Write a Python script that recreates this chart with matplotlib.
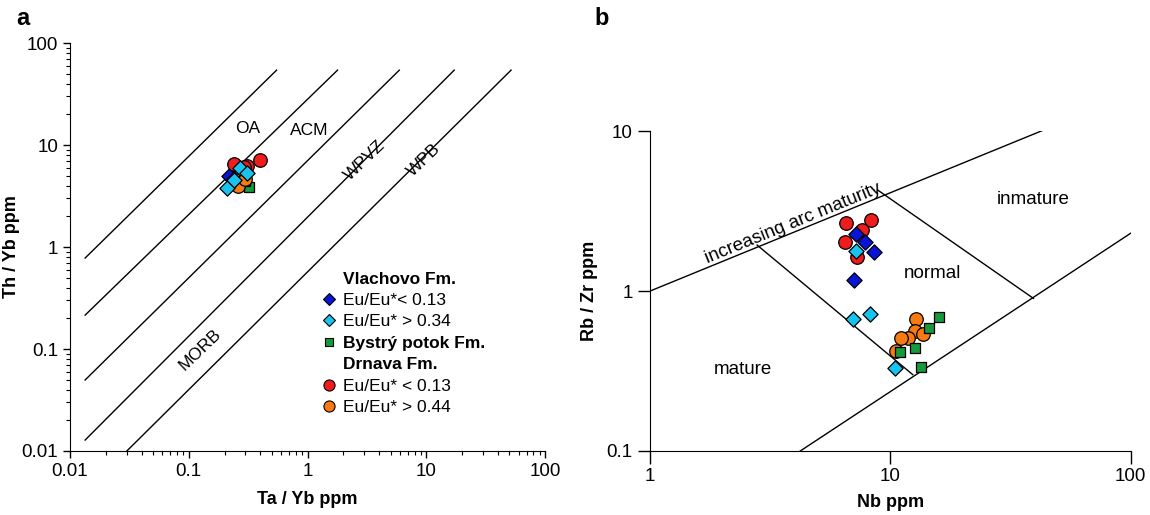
import matplotlib
matplotlib.use("Agg")
import matplotlib.pyplot as plt
from matplotlib.lines import Line2D
from matplotlib.ticker import LogLocator, NullFormatter, FixedLocator, FixedFormatter

plt.rcParams['font.family'] = ['Liberation Sans', 'DejaVu Sans']

# ---------------- Panel a data (Ta/Yb, Th/Yb) ----------------
a_vl_low_x = [0.22, 0.24, 0.30]
a_vl_low_y = [5.0, 4.6, 5.3]
a_vl_high_x = [0.21, 0.27, 0.31, 0.24]
a_vl_high_y = [3.8, 6.0, 5.3, 4.5]
a_by_x = [0.32, 0.25, 0.30]
a_by_y = [3.9, 4.3, 4.4]
a_dr_low_x = [0.40, 0.24, 0.31, 0.29]
a_dr_low_y = [7.1, 6.5, 6.3, 6.1]
a_dr_high_x = [0.27, 0.28, 0.26, 0.30]
a_dr_high_y = [4.3, 4.8, 4.0, 4.6]

# field boundaries panel a: (x0, y0, x1, y1)
a_bounds = [
    (0.0134, 0.78, 0.549, 54.3),
    (0.0134, 0.215, 1.79, 54.3),
    (0.0134, 0.0497, 5.93, 54.3),
    (0.0134, 0.0128, 17.2, 54.3),
    (0.0301, 0.01, 51.8, 54.3),
]

# ---------------- Panel b data (Nb, Rb/Zr) ----------------
b_vl_low_x = [7.21, 7.87, 8.52, 7.03]
b_vl_low_y = [2.26, 2.03, 1.76, 1.17]
b_vl_high_x = [7.21, 6.97, 8.2, 10.5]
b_vl_high_y = [1.78, 0.666, 0.72, 0.329]
b_by_x = [15.9, 14.5, 12.7, 11.0, 13.4]
b_by_y = [0.685, 0.59, 0.442, 0.414, 0.336]
b_dr_low_x = [6.56, 8.31, 7.62, 6.49, 7.27]
b_dr_low_y = [2.66, 2.78, 2.40, 2.03, 1.63]
b_dr_high_x = [12.8, 12.7, 13.7, 11.9, 11.1, 10.6]
b_dr_high_y = [0.668, 0.565, 0.536, 0.506, 0.506, 0.423]

b_bounds = [
    (1.0, 1.0, 46.5, 10.6),
    (2.79, 1.94, 12.4, 0.30),
    (8.83, 4.3, 39.4, 0.90),
    (4.22, 0.1, 100.0, 2.30),
]

C_DB = '#0a14d8'
C_CY = '#19c3f0'
C_GR = '#159a3c'
C_RD = '#ee1c1c'
C_OR = '#f77a12'

fig = plt.figure(figsize=(11.5, 5.15), dpi=100)
axa = fig.add_axes([0.0609, 0.1243, 0.413, 0.792])
axb = fig.add_axes([0.5652, 0.1243, 0.418, 0.621])

# ---------------- Panel a ----------------
axa.set_xscale('log')
axa.set_yscale('log')
axa.set_xlim(0.01, 100)
axa.set_ylim(0.01, 100)
for x0, y0, x1, y1 in a_bounds:
    axa.plot([x0, x1], [y0, y1], color='black', lw=1.0)

ms_c, ms_d, ms_s = 95, 60, 55
kw = dict(edgecolors='black', linewidths=0.9, zorder=3)
axa.scatter(a_vl_low_x, a_vl_low_y, marker='D', s=ms_d, c=C_DB, **kw)
axa.scatter(a_dr_low_x, a_dr_low_y, marker='o', s=ms_c, c=C_RD, **kw)
axa.scatter(a_by_x, a_by_y, marker='s', s=ms_s, c=C_GR, **kw)
axa.scatter(a_dr_high_x, a_dr_high_y, marker='o', s=ms_c, c=C_OR, **kw)
axa.scatter(a_vl_high_x, a_vl_high_y, marker='D', s=ms_d, c=C_CY, **kw)

axa.text(0.313, 14.7, 'OA', fontsize=12.5, ha='center', va='center')
axa.text(1.04, 14.0, 'ACM', fontsize=12.5, ha='center', va='center')
axa.text(3.01, 7.1, 'WPVZ', fontsize=12.5, ha='center', va='center', rotation=44)
axa.text(9.6, 7.1, 'WPB', fontsize=12.5, ha='center', va='center', rotation=44)
axa.text(0.124, 0.098, 'MORB', fontsize=12.5, ha='center', va='center', rotation=44)

for s in ['top', 'right']:
    axa.spines[s].set_visible(False)
axa.xaxis.set_major_locator(FixedLocator([0.01, 0.1, 1, 10, 100]))
axa.xaxis.set_major_formatter(FixedFormatter(['0.01', '0.1', '1', '10', '100']))
axa.yaxis.set_major_locator(FixedLocator([0.01, 0.1, 1, 10, 100]))
axa.yaxis.set_major_formatter(FixedFormatter(['0.01', '0.1', '1', '10', '100']))
axa.xaxis.set_minor_locator(LogLocator(base=10, subs=range(2, 10)))
axa.yaxis.set_minor_locator(LogLocator(base=10, subs=range(2, 10)))
axa.xaxis.set_minor_formatter(NullFormatter())
axa.yaxis.set_minor_formatter(NullFormatter())
axa.tick_params(which='major', length=5, width=1, labelsize=13.5, direction='out')
axa.tick_params(which='minor', length=3, width=0.8, direction='out')
axa.set_xlabel('Ta / Yb ppm', fontsize=13, fontweight='bold', labelpad=8)
axa.set_ylabel('Th / Yb ppm', fontsize=13, fontweight='bold', labelpad=1)

blank = Line2D([], [], linestyle='none', marker=None)
handles = [
    blank,
    Line2D([], [], linestyle='none', marker='D', markersize=6, markerfacecolor=C_DB, markeredgecolor='black', markeredgewidth=0.8),
    Line2D([], [], linestyle='none', marker='D', markersize=6, markerfacecolor=C_CY, markeredgecolor='black', markeredgewidth=0.8),
    Line2D([], [], linestyle='none', marker='s', markersize=6, markerfacecolor=C_GR, markeredgecolor='black', markeredgewidth=0.8),
    blank,
    Line2D([], [], linestyle='none', marker='o', markersize=8, markerfacecolor=C_RD, markeredgecolor='black', markeredgewidth=0.8),
    Line2D([], [], linestyle='none', marker='o', markersize=8, markerfacecolor=C_OR, markeredgecolor='black', markeredgewidth=0.8),
]
labels = ['Vlachovo Fm.', 'Eu/Eu*< 0.13', 'Eu/Eu* > 0.34', 'Bystrý potok Fm.',
          'Drnava Fm.', 'Eu/Eu* < 0.13', 'Eu/Eu* > 0.44']
leg = axa.legend(handles, labels, loc='upper left', bbox_to_anchor=(0.53, 0.44),
                 frameon=False, fontsize=12.5, handlelength=0.8, handletextpad=0.45,
                 labelspacing=0.36, borderpad=0, borderaxespad=0)
for i, t in enumerate(leg.get_texts()):
    if i in (0, 3, 4):
        t.set_fontweight('bold')

fig.text(0.014, 0.965, 'a', fontsize=17, fontweight='bold', va='center')

# ---------------- Panel b ----------------
axb.set_xscale('log')
axb.set_yscale('log')
axb.set_xlim(1, 100)
axb.set_ylim(0.1, 10)
for x0, y0, x1, y1 in b_bounds:
    axb.plot([x0, x1], [y0, y1], color='black', lw=1.0)

axb.scatter(b_dr_low_x, b_dr_low_y, marker='o', s=ms_c, c=C_RD, **kw)
axb.scatter(b_vl_low_x, b_vl_low_y, marker='D', s=ms_d, c=C_DB, **kw)
axb.scatter(b_dr_high_x, b_dr_high_y, marker='o', s=ms_c, c=C_OR, **kw)
axb.scatter(b_by_x, b_by_y, marker='s', s=ms_s, c=C_GR, **kw)
axb.scatter(b_vl_high_x, b_vl_high_y, marker='D', s=ms_d, c=C_CY, **kw)

axb.text(4.06, 2.36, 'increasing arc maturity', fontsize=13.5, ha='center', va='bottom',
         rotation=22.2, rotation_mode='anchor')
axb.text(39.4, 3.76, 'inmature', fontsize=13.5, ha='center', va='center')
axb.text(14.96, 1.28, 'normal', fontsize=13.5, ha='center', va='center')
axb.text(2.44, 0.325, 'mature', fontsize=13.5, ha='center', va='center')

for s in ['top', 'right']:
    axb.spines[s].set_visible(False)
axb.xaxis.set_major_locator(FixedLocator([1, 10, 100]))
axb.xaxis.set_major_formatter(FixedFormatter(['1', '10', '100']))
axb.yaxis.set_major_locator(FixedLocator([0.1, 1, 10]))
axb.yaxis.set_major_formatter(FixedFormatter(['0.1', '1', '10']))
axb.xaxis.set_minor_locator(FixedLocator([]))
axb.yaxis.set_minor_locator(FixedLocator([]))
axb.tick_params(which='major', length=9, width=1, labelsize=13.5, direction='out')
axb.set_xlabel('Nb ppm', fontsize=13, fontweight='bold', labelpad=6)
axb.set_ylabel('Rb / Zr ppm', fontsize=13, fontweight='bold', labelpad=6)

fig.text(0.517, 0.965, 'b', fontsize=17, fontweight='bold', va='center')

fig.savefig('out.png', dpi=100)
